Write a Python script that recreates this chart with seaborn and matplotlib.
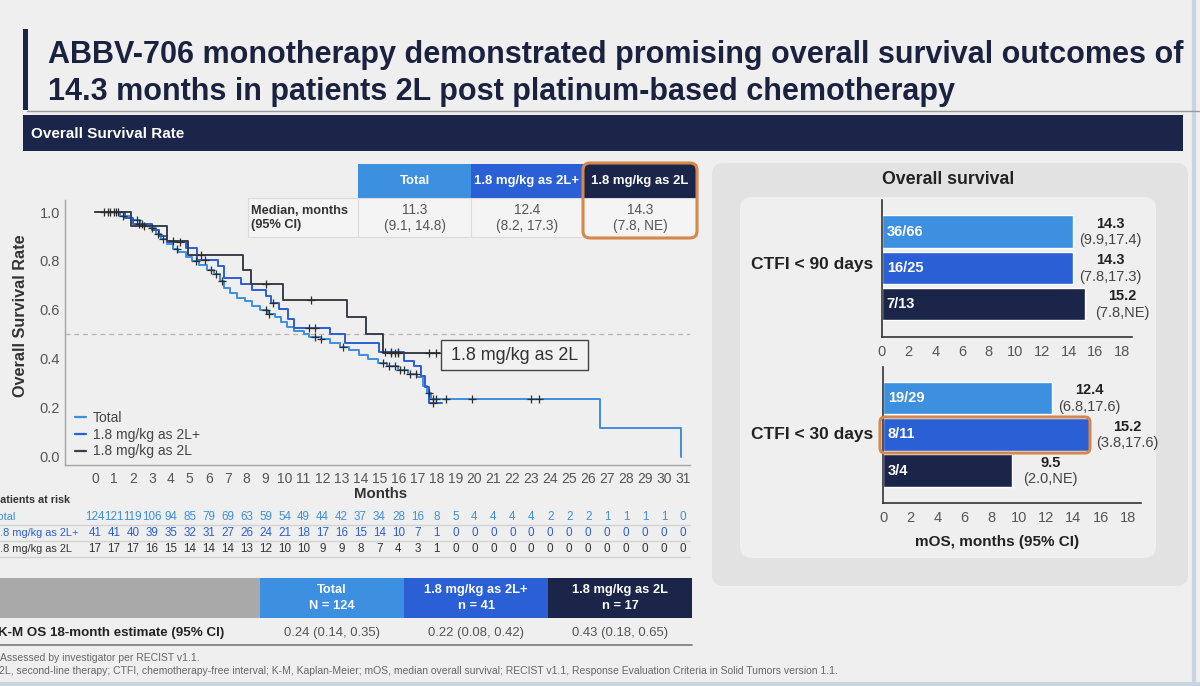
import numpy as np
import pandas as pd
import seaborn as sns
import matplotlib.pyplot as plt
from matplotlib.patches import Rectangle, FancyBboxPatch
from matplotlib.lines import Line2D
from matplotlib.transforms import Affine2D, blended_transform_factory

# ---- data ----
groups = ['Total', '1.8 mg/kg as 2L+', '1.8 mg/kg as 2L']

# Kaplan-Meier steps (month of drop, survival after drop); last entry = end of curve
km_total_t = [0, 1.3, 1.9, 2.4, 2.9, 3.2, 3.5, 3.8, 4.1, 4.4, 4.8, 5.1, 5.5, 5.9, 6.3, 6.6,
              6.8, 7.1, 7.5, 7.9, 8.3, 8.7, 9.1, 9.5, 9.8, 10.1, 10.5, 11.0, 11.3, 11.9,
              12.4, 12.9, 13.4, 13.9, 14.4, 14.9, 15.4, 16.0, 16.5, 17.0, 17.3, 17.5, 17.7,
              26.6, 30.9]
km_total_s = [1.0, 0.984, 0.968, 0.952, 0.935, 0.91, 0.89, 0.87, 0.85, 0.835, 0.815, 0.80,
              0.785, 0.765, 0.745, 0.72, 0.69, 0.67, 0.65, 0.635, 0.615, 0.60, 0.585, 0.57,
              0.55, 0.53, 0.515, 0.50, 0.49, 0.48, 0.465, 0.45, 0.435, 0.415, 0.40, 0.385,
              0.37, 0.355, 0.34, 0.325, 0.29, 0.26, 0.236, 0.118, 0.0]
km_2lp_t = [0, 1.6, 2.0, 3.0, 3.4, 3.8, 4.8, 5.4, 6.5, 6.8, 7.7, 8.3, 9.0, 9.3, 9.7, 10.2,
            10.5, 12.4, 13.2, 15.0, 16.3, 16.8, 17.2, 17.4, 17.6, 18.3]
km_2lp_s = [1.0, 0.976, 0.951, 0.927, 0.903, 0.878, 0.854, 0.805, 0.78, 0.73, 0.705, 0.68,
            0.655, 0.63, 0.605, 0.565, 0.527, 0.50, 0.466, 0.43, 0.39, 0.37, 0.33, 0.286,
            0.22, 0.22]
km_2l_t = [0, 1.9, 3.8, 4.9, 7.8, 8.2, 9.9, 13.3, 14.3, 15.2, 18.2]
km_2l_s = [1.0, 0.941, 0.882, 0.824, 0.765, 0.706, 0.64, 0.57, 0.50, 0.425, 0.425]

cens_total = [0.5, 0.8, 1.1, 1.5, 2.2, 2.5, 3.0, 3.3, 3.6, 4.3, 5.3, 6.1, 6.4, 6.7, 9.0, 9.2,
              11.6, 11.9, 13.1, 15.2, 15.5, 15.8, 16.1, 16.3, 16.6, 16.9, 17.6, 17.8, 18.0,
              18.5, 19.9, 23.0, 23.4]
cens_2lp = [0.7, 1.2, 2.3, 4.5, 5.8, 9.4, 11.3, 11.6, 15.3, 15.6, 16.0, 17.8]
cens_2l = [1.0, 2.6, 4.1, 5.6, 9.0, 11.4, 15.6, 15.8, 16.0, 17.6, 18.0]

months = list(range(32))
risk_total = [124, 121, 119, 106, 94, 85, 79, 69, 63, 59, 54, 49, 44, 42, 37, 34, 28, 16, 8, 5,
              4, 4, 4, 4, 2, 2, 2, 1, 1, 1, 1, 0]
risk_2lp = [41, 41, 40, 39, 35, 32, 31, 27, 26, 24, 21, 18, 17, 16, 15, 14, 10, 7, 1, 0,
            0, 0, 0, 0, 0, 0, 0, 0, 0, 0, 0, 0]
risk_2l = [17, 17, 17, 16, 15, 14, 14, 14, 13, 12, 10, 10, 9, 9, 8, 7, 4, 3, 1, 0,
           0, 0, 0, 0, 0, 0, 0, 0, 0, 0, 0, 0]

median_vals = ['11.3', '12.4', '14.3']
median_ci = ['(9.1, 14.8)', '(8.2, 17.3)', '(7.8, NE)']
n_labels = ['N = 124', 'n = 41', 'n = 17']
est18 = ['0.24 (0.14, 0.35)', '0.22 (0.08, 0.42)', '0.43 (0.18, 0.65)']

ctfi90_frac = ['36/66', '16/25', '7/13']
ctfi90_mos = [14.3, 14.3, 15.2]
ctfi90_ci = ['(9.9,17.4)', '(7.8,17.3)', '(7.8,NE)']
ctfi30_frac = ['19/29', '8/11', '3/4']
ctfi30_mos = [12.4, 15.2, 9.5]
ctfi30_ci = ['(6.8,17.6)', '(3.8,17.6)', '(2.0,NE)']

# ---- style ----
LIGHT, MID, NAVY = '#3d8fe0', '#2b5fd6', '#1b2549'
KM_DARK = '#3a3f4a'
ORANGE = '#d6874a'
BG = '#efefef'

sns.set_style('white')
plt.rcParams['font.family'] = ['Liberation Sans', 'DejaVu Sans']

W, H = 1200, 686
fig = plt.figure(figsize=(12, 6.86), dpi=100, facecolor=BG)
PX = Affine2D().scale(1 / W, -1 / H).translate(0, 1) + fig.transFigure
renderer = fig.canvas.get_renderer()


def rect(x0, y0, x1, y1, fc, ec='none', lw=0, r=0, z=1):
    if r:
        p = FancyBboxPatch((x0, y0), x1 - x0, y1 - y0, boxstyle=f'round,pad=0,rounding_size={r}',
                           fc=fc, ec=ec, lw=lw, zorder=z)
    else:
        p = Rectangle((x0, y0), x1 - x0, y1 - y0, fc=fc, ec=ec, lw=lw, zorder=z)
    p.set_transform(PX)
    fig.add_artist(p)


def line(x0, y0, x1, y1, color, lw=1, z=1):
    fig.add_artist(Line2D([x0, x1], [y0, y1], color=color, lw=lw, transform=PX, zorder=z))


def txt(x, y, s, **kw):
    kw.setdefault('va', 'center')
    return fig.text(x, y, s, transform=PX, **kw)


def fit(t, target, dim='w'):
    # scale font so the text spans the width (or height) it has on the slide
    bb = t.get_window_extent(renderer)
    cur = bb.width if dim == 'w' else bb.height
    t.set_fontsize(t.get_fontsize() * target / cur)
    return t.get_fontsize()


def ax_box(x0, y0, x1, y1):
    return [x0 / W, 1 - y1 / H, (x1 - x0) / W, (y1 - y0) / H]


# ---- title and banner ----
rect(23, 29, 27.5, 110, NAVY)
line(27, 110.5, 1200, 110.5, '#9a9a9a', lw=1)
t1 = txt(48, 55, 'ABBV-706 monotherapy demonstrated promising overall survival outcomes of',
         fontsize=22, fontweight='bold', color='#1b2240')
fs = fit(t1, 1135)
txt(48, 92, '14.3 months in patients 2L post platinum-based chemotherapy',
    fontsize=fs, fontweight='bold', color='#1b2240')
rect(23, 115, 1183, 151, NAVY)
fit(txt(31, 134, 'Overall Survival Rate', fontsize=10, fontweight='bold', color='white'), 153)

# ---- KM plot ----
ax = fig.add_axes(ax_box(65, 200, 690, 465))
ax.set_facecolor('none')
km_t = [km_total_t, km_2lp_t, km_2l_t]
km_s = [km_total_s, km_2lp_s, km_2l_s]
km_colors = [LIGHT, MID, KM_DARK]
km_df = pd.concat([pd.DataFrame({'month': t, 'surv': s, 'group': g})
                   for t, s, g in zip(km_t, km_s, groups)], ignore_index=True)
sns.lineplot(data=km_df, x='month', y='surv', hue='group', hue_order=groups,
             palette=dict(zip(groups, km_colors)), estimator=None, sort=False,
             drawstyle='steps-post', linewidth=1.4, legend=False, ax=ax)

cens_rows = []
for t, s, cens, g in zip(km_t, km_s, [cens_total, cens_2lp, cens_2l], groups):
    for c in cens:
        cens_rows.append({'month': c, 'surv': s[np.searchsorted(t, c, side='right') - 1], 'group': g})
cens_df = pd.DataFrame(cens_rows)
sns.scatterplot(data=cens_df, x='month', y='surv', marker='+', s=32, color='#2d2d2d',
                linewidth=0.9, legend=False, ax=ax, zorder=4)

ax.axhline(0.5, ls=(0, (4, 3)), color='#b5b5b5', lw=0.9, zorder=0)
ax.set_xlim(-1.58, 31.37)
ax.set_ylim(-0.033, 1.049)
ax.set_xticks(months)
ax.set_yticks([0, 0.2, 0.4, 0.6, 0.8, 1.0])
ax.set_yticklabels(['0.0', '0.2', '0.4', '0.6', '0.8', '1.0'])
ax.tick_params(axis='both', length=0, labelsize=10.5, labelcolor='#555')
ax.tick_params(axis='x', labelsize=10, pad=5)
ax.set_xlabel('')
ax.set_ylabel('')
for side in ['top', 'right']:
    ax.spines[side].set_visible(False)
for side in ['left', 'bottom']:
    ax.spines[side].set_color('#a5a5a5')
    ax.spines[side].set_linewidth(1)

fit(txt(21, 316, 'Overall Survival Rate', rotation=90, ha='center', fontsize=12,
        fontweight='bold', color='#333'), 162, dim='h')
fit(txt(381, 494, 'Months', ha='center', fontsize=12, fontweight='bold', color='#333'), 53)

handles = [Line2D([0], [0], color=c, lw=1.6) for c in km_colors]
ax.legend(handles, groups, loc='upper left', bbox_to_anchor=(68 / W, 1 - 404 / H),
          bbox_transform=fig.transFigure, frameon=False, handlelength=0.8,
          handletextpad=0.5, labelspacing=0.2, borderpad=0, labelcolor='#444',
          prop={'size': 10})

rect(441, 340, 588, 370, '#f2f2f2', ec='#444', lw=1, z=5)
fit(txt(514.5, 355, '1.8 mg/kg as 2L', ha='center', fontsize=13, color='#333', zorder=6), 127)

# median table
col_x = [358, 471, 583, 697]
hdr_colors = [LIGHT, MID, NAVY]
rect(248, 198, 697, 237, '#f4f4f4', ec='#dcdcdc', lw=0.8, z=5)
hdr_t = []
for i in range(3):
    rect(col_x[i], 164, col_x[i + 1], 198, hdr_colors[i], z=5)
    line(col_x[i], 198, col_x[i], 237, '#dcdcdc', lw=0.8, z=6)
    xc = (col_x[i] + col_x[i + 1]) / 2
    hdr_t.append(txt(xc, 181, groups[i], ha='center', fontsize=10, fontweight='bold',
                     color='white', zorder=7))
    txt(xc, 218, median_vals[i] + '\n' + median_ci[i], ha='center', fontsize=9.8,
        color='#555', zorder=7, linespacing=1.2)
fs = fit(hdr_t[1], 106)
for t in hdr_t:
    t.set_fontsize(fs)
txt(251, 218, 'Median, months\n(95% CI)', ha='left', fontsize=9.2, fontweight='bold',
    color='#333', zorder=7, linespacing=1.2)
rect(583, 163, 697, 238, 'none', ec=ORANGE, lw=2.2, r=7, z=8)

# patients at risk
fit(txt(-7, 500, 'Patients at risk', ha='left', fontsize=9, fontweight='bold', color='#333'), 77)
xdata_ypx = blended_transform_factory(ax.transData, PX)
risk_rows = [risk_total, risk_2lp, risk_2l]
risk_colors = [LIGHT, MID, '#333']
row_t = []
for vals, g, c, y, x0 in zip(risk_rows, groups, risk_colors, [517, 533, 549], [-7, -6, -6]):
    row_t.append(txt(x0, y, g, ha='left', fontsize=9, color=c))
    for m, v in zip(months, vals):
        fig.text(m, y, str(v), transform=xdata_ypx, ha='center', va='center',
                 fontsize=8.4, color=c)
fs = fit(row_t[1], 85)
for t in row_t:
    t.set_fontsize(fs)
for y in [525, 541, 557]:
    line(0, y, 690, y, '#d2d2d2', lw=1)

# 18-month estimate table
bx = [260, 404, 548, 692]
rect(0, 578, 260, 618, '#a9a9a9')
hdr_t, val_t = [], []
for i in range(3):
    rect(bx[i], 578, bx[i + 1], 618, hdr_colors[i])
    xc = (bx[i] + bx[i + 1]) / 2
    hdr_t.append(txt(xc, 598, groups[i] + '\n' + n_labels[i], ha='center', fontsize=10,
                     fontweight='bold', color='white', linespacing=1.35))
    val_t.append(txt(xc, 633, est18[i], ha='center', fontsize=10.5, color='#555'))
fs = fit(hdr_t[1], 104)
for t in hdr_t:
    t.set_fontsize(fs)
fs = fit(val_t[0], 97)
for t in val_t:
    t.set_fontsize(fs)
fit(txt(-2, 633, 'K-M OS 18-month estimate (95% CI)', ha='left', fontsize=10.5,
        fontweight='bold', color='#222'), 228)
line(0, 645, 692, 645, '#777', lw=1.2)

foot1 = txt(0, 658, 'Assessed by investigator per RECIST v1.1.', ha='left', fontsize=7,
            color='#666')
foot2 = txt(-1, 671, '2L, second-line therapy; CTFI, chemotherapy-free interval; K-M, Kaplan-Meier; '
            'mOS, median overall survival; RECIST v1.1, Response Evaluation Criteria in Solid '
            'Tumors version 1.1.', ha='left', fontsize=7, color='#666')
foot1.set_fontsize(fit(foot2, 833))

# ---- right panel: CTFI bars ----
rect(712, 163, 1188, 586, '#e2e2e2', r=12, z=-2)
rect(740, 197, 1156, 558, '#efefef', r=12, z=-1)
txt(948, 179, 'Overall survival', ha='center', fontsize=12.8, fontweight='bold', color='#222')

bar_colors = [LIGHT, MID, NAVY]
panels = [
    (ax_box(882, 200, 1132, 337), 18.75, ctfi90_frac, ctfi90_mos, ctfi90_ci, 'CTFI < 90 days', 265),
    (ax_box(883, 367, 1141, 503), 18.97, ctfi30_frac, ctfi30_mos, ctfi30_ci, 'CTFI < 30 days', 435),
]
for pos, xmax, frac, mos, ci, glabel, gy in panels:
    bax = fig.add_axes(pos)
    bax.set_facecolor('none')
    sns.barplot(x=mos, y=frac, hue=frac, palette=bar_colors, orient='h', width=0.89,
                legend=False, saturation=1, ax=bax)
    bax.set_xlim(0, xmax)
    bax.set_ylim(2.9, -0.87)
    bax.set_yticks([])
    bax.set_xticks(range(0, 19, 2))
    bax.tick_params(axis='x', length=3, width=1, color='#444', labelsize=10.5,
                    labelcolor='#555', pad=3)
    bax.set_xlabel('')
    bax.set_ylabel('')
    for side in ['top', 'right']:
        bax.spines[side].set_visible(False)
    for side in ['left', 'bottom']:
        bax.spines[side].set_color('#333')
        bax.spines[side].set_linewidth(1.2)
    for i in range(3):
        bax.text(0.35, i, frac[i], ha='left', va='center', fontsize=10.5, fontweight='bold',
                 color='white')
        bax.text(mos[i] + 2.8, i - 0.22, f'{mos[i]:.1f}', ha='center', va='center',
                 fontsize=10.5, fontweight='bold', color='#222')
        bax.text(mos[i] + 2.8, i + 0.24, ci[i], ha='center', va='center',
                 fontsize=10.5, color='#444')
    txt(873, gy, glabel, ha='right', fontsize=12.5, fontweight='bold', color='#222')

rect(880, 417, 1090, 453, 'none', ec=ORANGE, lw=2.2, r=5, z=8)
txt(997, 542, 'mOS, months (95% CI)', ha='center', fontsize=11, fontweight='bold', color='#222')

# slide edge
line(1194, 0, 1194, 686, '#c8d4e2', lw=3, z=-1)
line(0, 684, 1200, 684, '#c8d4e2', lw=3, z=-1)

fig.savefig('out.png', dpi=100, facecolor=BG)
